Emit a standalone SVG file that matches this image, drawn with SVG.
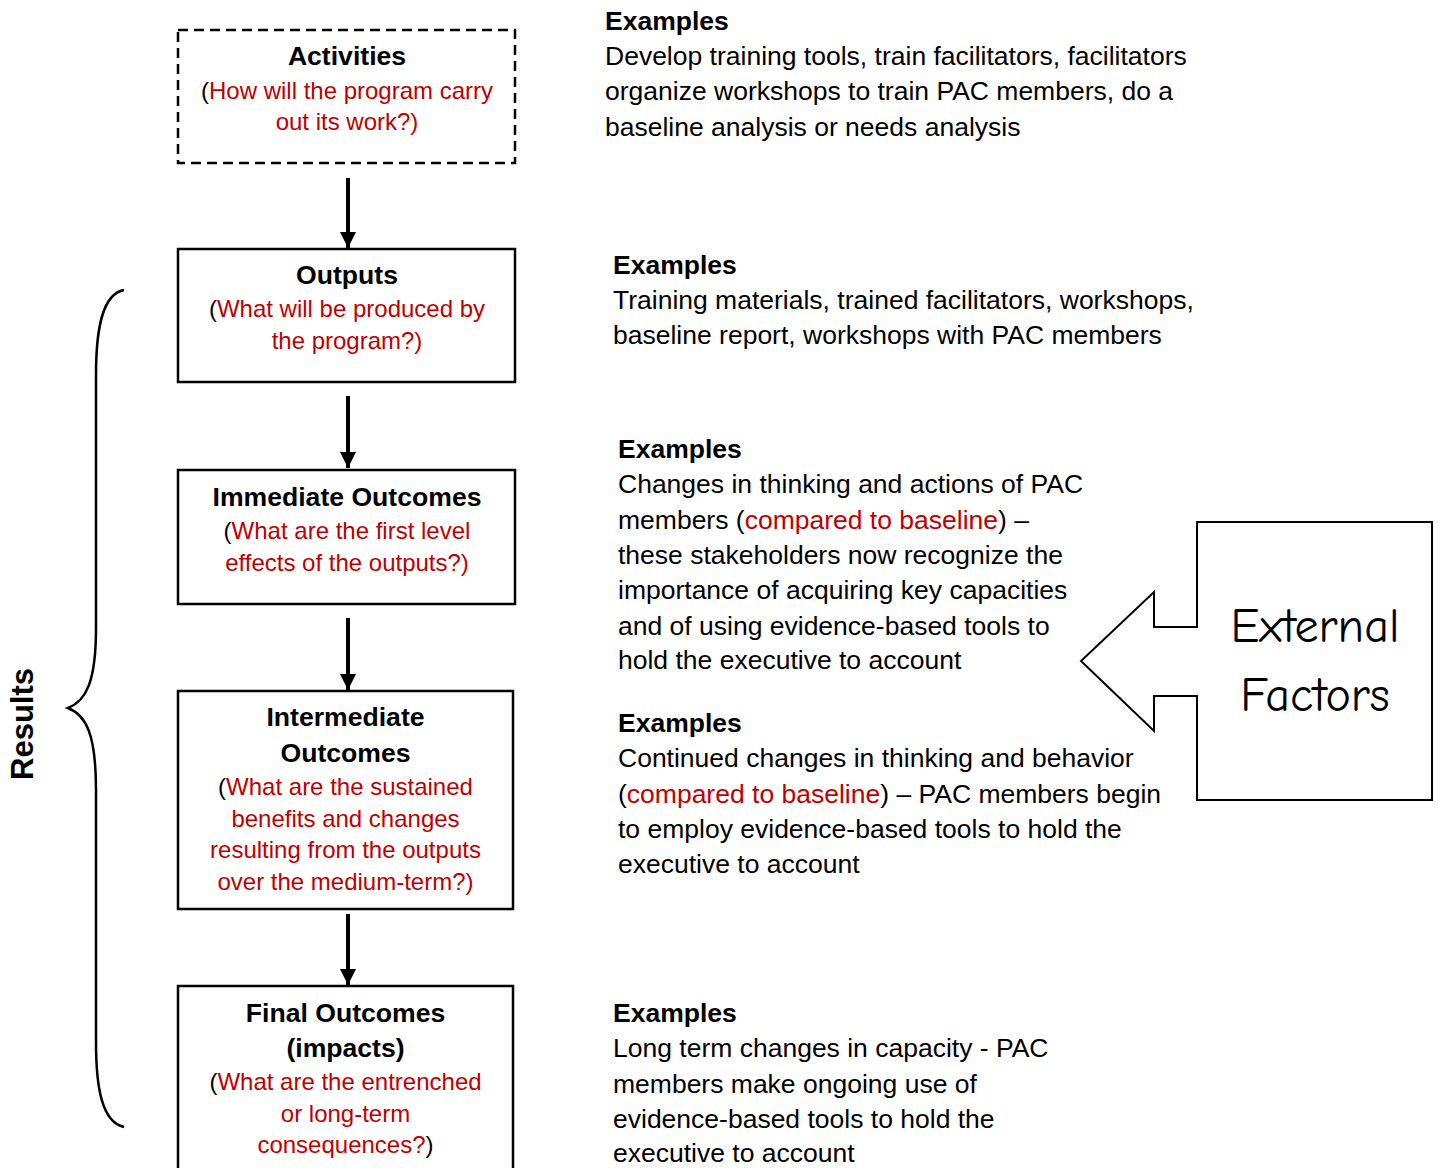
<svg xmlns="http://www.w3.org/2000/svg" width="1438" height="1168" viewBox="0 0 1438 1168">
<style>
.box{fill:#fff;stroke:#000;stroke-width:2.5}
.t{font-family:"Liberation Sans",Arial,sans-serif;fill:#000}
.title{font-size:26.6px;font-weight:bold;text-anchor:middle}
.q{font-size:24px;text-anchor:middle}
.r{fill:#C00000}
.ex{font-size:26.5px}
.b{font-weight:bold}
.conn line{stroke:#000;stroke-width:4}
.ext{font-family:"Comic Sans MS","Comic Neue","DejaVu Sans",sans-serif;font-size:48px;text-anchor:middle}
</style>
<defs>
<marker id="ah" markerUnits="userSpaceOnUse" markerWidth="16" markerHeight="16" viewBox="0 0 16 16" refX="16" refY="8" orient="auto">
<path d="M0,0 L16,8 L0,16 Z" fill="#000"/>
</marker>
</defs>
<rect width="1438" height="1168" fill="#fff"/>

<g id="activities">
<rect class="box" x="178" y="30" width="337" height="133" stroke-dasharray="10,6"/>
<text class="t title" x="347" y="65">Activities</text>
<text class="t q" x="347" y="99">(<tspan class="r">How will the program carry</tspan></text>
<text class="t q r" x="347" y="130">out its work?)</text>
</g>

<g id="outputs">
<rect class="box" x="178" y="249" width="337" height="133"/>
<text class="t title" x="347" y="284">Outputs</text>
<text class="t q" x="347" y="317">(<tspan class="r">What will be produced by</tspan></text>
<text class="t q r" x="347" y="349">the program?)</text>
</g>

<g id="immediate">
<rect class="box" x="178" y="470" width="337" height="134"/>
<text class="t title" x="347" y="506">Immediate Outcomes</text>
<text class="t q" x="347" y="539">(<tspan class="r">What are the first level</tspan></text>
<text class="t q r" x="347" y="571">effects of the outputs?)</text>
</g>

<g id="intermediate">
<rect class="box" x="178" y="691" width="335" height="218"/>
<text class="t title" x="345.5" y="726">Intermediate</text>
<text class="t title" x="345.5" y="762">Outcomes</text>
<text class="t q" x="345.5" y="795">(<tspan class="r">What are the sustained</tspan></text>
<text class="t q r" x="345.5" y="827">benefits and changes</text>
<text class="t q r" x="345.5" y="858">resulting from the outputs</text>
<text class="t q r" x="345.5" y="890">over the medium-term?)</text>
</g>

<g id="final">
<rect class="box" x="178" y="986" width="335" height="200"/>
<text class="t title" x="345.5" y="1022">Final Outcomes</text>
<text class="t title" x="345.5" y="1057">(impacts)</text>
<text class="t q" x="345.5" y="1090">(<tspan class="r">What are the entrenched</tspan></text>
<text class="t q r" x="345.5" y="1122">or long-term</text>
<text class="t q" x="345.5" y="1153"><tspan class="r">consequences?</tspan>)</text>
</g>

<g id="connectors" class="conn">
<line x1="348" y1="178" x2="348" y2="248" marker-end="url(#ah)"/>
<line x1="348" y1="396" x2="348" y2="468" marker-end="url(#ah)"/>
<line x1="348" y1="618" x2="348" y2="690" marker-end="url(#ah)"/>
<line x1="348" y1="914" x2="348" y2="985" marker-end="url(#ah)"/>
</g>

<g id="results-brace">
<path d="M124,290 C102,294 96,330 96,375 L96,628 C96,682 86,701 68,708 C86,715 96,734 96,790 L96,1042 C96,1088 102,1122 124,1127" fill="none" stroke="#000" stroke-width="2.5"/>
<text class="t b" font-size="31" text-anchor="middle" transform="translate(33,724) rotate(-90)">Results</text>
</g>

<g id="examples-activities">
<text class="t ex b" x="605" y="30">Examples</text>
<text class="t ex" x="605" y="65">Develop training tools, train facilitators, facilitators</text>
<text class="t ex" x="605" y="100">organize workshops to train PAC members, do a</text>
<text class="t ex" x="605" y="136">baseline analysis or needs analysis</text>
</g>

<g id="examples-outputs">
<text class="t ex b" x="613" y="274">Examples</text>
<text class="t ex" x="613" y="309">Training materials, trained facilitators, workshops,</text>
<text class="t ex" x="613" y="344">baseline report, workshops with PAC members</text>
</g>

<g id="examples-immediate">
<text class="t ex b" x="618" y="458">Examples</text>
<text class="t ex" x="618" y="493">Changes in thinking and actions of PAC</text>
<text class="t ex" x="618" y="529">members (<tspan class="r">compared to baseline</tspan>) –</text>
<text class="t ex" x="618" y="564">these stakeholders now recognize the</text>
<text class="t ex" x="618" y="599">importance of acquiring key capacities</text>
<text class="t ex" x="618" y="635">and of using evidence-based tools to</text>
<text class="t ex" x="618" y="669">hold the executive to account</text>
</g>

<g id="examples-intermediate">
<text class="t ex b" x="618" y="732">Examples</text>
<text class="t ex" x="618" y="767">Continued changes in thinking and behavior</text>
<text class="t ex" x="618" y="803">(<tspan class="r">compared to baseline</tspan>) – PAC members begin</text>
<text class="t ex" x="618" y="838">to employ evidence-based tools to hold the</text>
<text class="t ex" x="618" y="873">executive to account</text>
</g>

<g id="examples-final">
<text class="t ex b" x="613" y="1022">Examples</text>
<text class="t ex" x="613" y="1057">Long term changes in capacity - PAC</text>
<text class="t ex" x="613" y="1093">members make ongoing use of</text>
<text class="t ex" x="613" y="1128">evidence-based tools to hold the</text>
<text class="t ex" x="613" y="1162">executive to account</text>
</g>

<g id="external-factors">
<path d="M1197,522 L1432,522 L1432,800 L1197,800 L1197,696 L1154,696 L1154,731 L1081,661 L1154,592 L1154,627 L1197,627 Z" fill="#fff" stroke="#000" stroke-width="2"/>
<text class="ext" x="1315" y="642">External</text>
<text class="ext" x="1315" y="711">Factors</text>
</g>
</svg>
